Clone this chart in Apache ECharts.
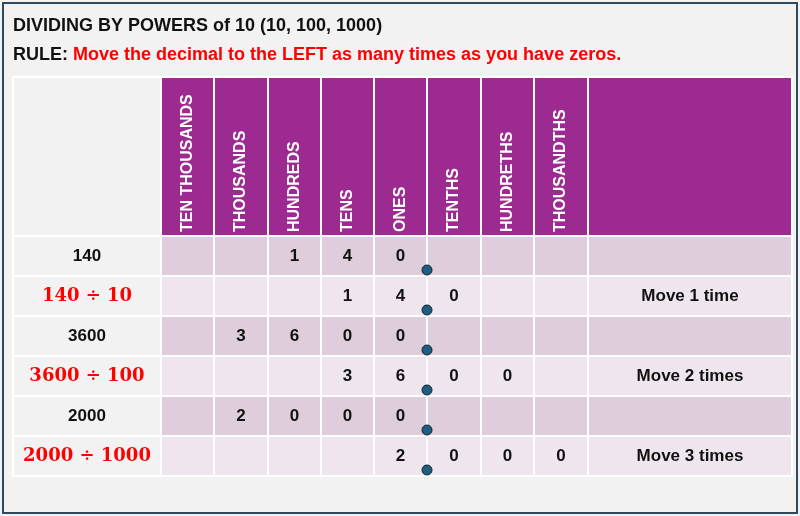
<!DOCTYPE html>
<html><head><meta charset="utf-8">
<script src="https://cdn.jsdelivr.net/npm/echarts@6/dist/echarts.min.js"></script>
<style>html,body{margin:0;padding:0;background:#f2f2f2}#c{width:800px;height:516px}</style>
</head><body><div id="c"></div>
<script>
const title = "DIVIDING BY POWERS of 10 (10, 100, 1000)";
const ruleLabel = "RULE: ";
const ruleText = "Move the decimal to the LEFT as many times as you have zeros.";
const placeHeaders = ["TEN THOUSANDS","THOUSANDS","HUNDREDS","TENS","ONES","TENTHS","HUNDRETHS","THOUSANDTHS"];
const rowLabels = ["140","140 ÷ 10","3600","3600 ÷ 100","2000","2000 ÷ 1000"];
const rowDigits = [
  ["","","1","4","0","","",""],
  ["","","","1","4","0","",""],
  ["","3","6","0","0","","",""],
  ["","","","3","6","0","0",""],
  ["","2","0","0","0","","",""],
  ["","","","","2","0","0","0"]
];
const rowNotes = ["","Move 1 time","","Move 2 times","","Move 3 times"];

// layout (pixel-like units on value axes)
const colEdges = [13,161,214,268,321,374,427,481,534,588,792];
const headTop = 77, headBottom = 236, rowH = 40;

const cells = [];
for (let c = 0; c < 10; c++) cells.push({kind:'head', c, r:-1});
rowLabels.forEach((_, r) => { for (let c = 0; c < 10; c++) cells.push({kind:'body', c, r}); });
const data = cells.map((d,i)=>[i]);

function cellText(d){
  if (d.kind==='head') return (d.c>=1 && d.c<=8) ? placeHeaders[d.c-1] : '';
  if (d.c===0) return rowLabels[d.r];
  if (d.c===9) return rowNotes[d.r];
  return rowDigits[d.r][d.c-1];
}

const chart = echarts.init(document.getElementById('c'));
chart.setOption({
  animation:false,
  backgroundColor:'#f2f2f2',
  grid:{left:0,right:0,top:0,bottom:0},
  xAxis:{type:'value',min:0,max:800,show:false},
  yAxis:{type:'value',min:0,max:516,inverse:true,show:false},
  graphic:[
    {type:'rect',shape:{x:3,y:3,width:794,height:510},style:{fill:'none',stroke:'#2f4a5c',lineWidth:2}},
    {type:'text',left:13,top:17,style:{text:title,font:'bold 18px "Liberation Sans", Arial',fill:'#111'}},
    {type:'text',left:13,top:46,style:{rich:{a:{font:'bold 18px "Liberation Sans", Arial',fill:'#111'},b:{font:'bold 18px "Liberation Sans", Arial',fill:'#ff0000'}},text:'{a|'+ruleLabel+'}{b|'+ruleText+'}'}}
  ],
  series:[{
    type:'custom',
    data:data,
    renderItem:function(params, api){
      const d = cells[api.value(0)];
      const x0 = colEdges[d.c], x1 = colEdges[d.c+1];
      const y0 = d.kind==='head' ? headTop : headBottom + d.r*rowH;
      const y1 = d.kind==='head' ? headBottom : y0 + rowH;
      const p0 = api.coord([x0,y0]), p1 = api.coord([x1,y1]);
      let fill;
      if (d.kind==='head') fill = (d.c===0) ? '#f2f2f2' : '#9c2a90';
      else if (d.c===0) fill = '#f2f2f2';
      else fill = (d.r%2===0) ? '#dfcddc' : '#efe5ee';
      const children = [{type:'rect',shape:{x:p0[0],y:p0[1],width:p1[0]-p0[0],height:p1[1]-p0[1]},
        style:{fill:fill,stroke:'#ffffff',lineWidth:2}}];
      const t = cellText(d);
      if (t){
        const cx=(p0[0]+p1[0])/2, cy=(p0[1]+p1[1])/2;
        if (d.kind==='head'){
          children.push({type:'text',x:cx,y:p1[1]-4,rotation:Math.PI/2,
            style:{text:t,fill:'#fff',font:'bold 16px "Liberation Sans", Arial',align:'left',verticalAlign:'middle'}});
        } else {
          const red = d.c===0 && d.r%2===1;
          children.push({type:'text',x:cx,y:cy,
            style:{text:t,fill:red?'#ff0000':'#111',
              font: red ? 'bold 18px "DejaVu Serif", serif' : 'bold 17px "Liberation Sans", Arial',
              align:'center',verticalAlign:'middle'}});
        }
      }
      if (d.kind==='body' && d.c===5){
        const pd = api.coord([x1, y0+rowH-6]);
        children.push({type:'circle',shape:{cx:pd[0],cy:pd[1],r:5},style:{fill:'#1f5f7e',stroke:'#123',lineWidth:1},z2:10});
      }
      return {type:'group',children};
    }
  }]
});
</script></body></html>
